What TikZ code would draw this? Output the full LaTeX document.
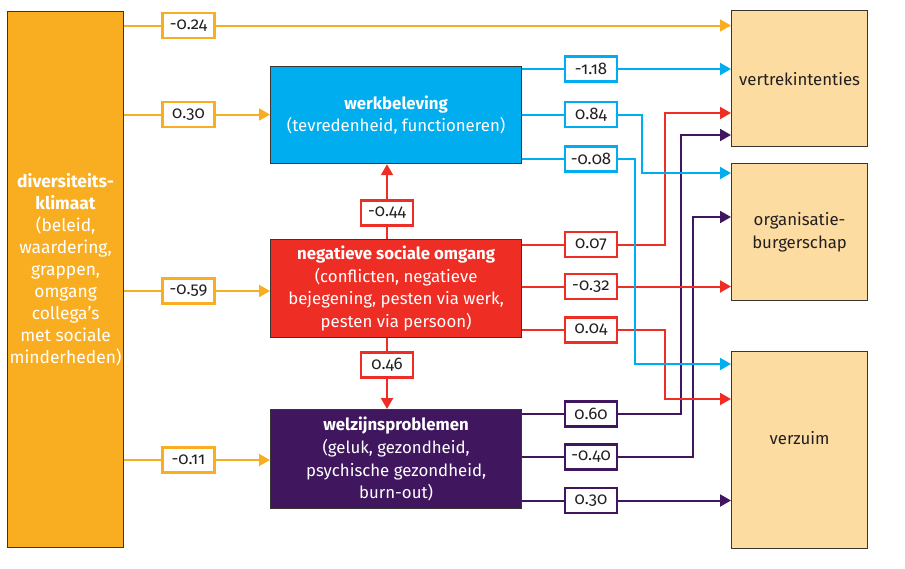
\documentclass[tikz,border=0pt]{standalone}
\usepackage{fontspec}
\setmainfont{Fira Sans}[Numbers=OldStyle]
\usetikzlibrary{arrows.meta}
\definecolor{corange}{HTML}{F9AE22}
\definecolor{cblue}{HTML}{00AEEF}
\definecolor{cred}{HTML}{EE2D24}
\definecolor{cpurple}{HTML}{40175F}
\definecolor{cbeige}{HTML}{FCDCA0}
\definecolor{cborder}{HTML}{3A3530}
\definecolor{ctext}{HTML}{231F20}
\begin{document}
\begin{tikzpicture}[x=1pt,y=-1pt,
  bigbox/.style={draw=cborder,line width=1.2pt,anchor=north west,inner sep=0pt,align=center,font=\fontsize{16.8}{22.6}\selectfont},
  outbox/.style={bigbox,fill=cbeige,text=ctext,minimum width=136pt},
  lab/.style={draw=#1,line width=2.5pt,fill=white,minimum width=52pt,minimum height=25pt,inner sep=0pt,text=ctext,font=\fontsize{16.8}{18}\selectfont},
  conn/.style={draw=#1,line width=2pt},
  arr/.style={conn=#1,-{Triangle[length=11pt,width=12pt]}}
]
\useasboundingbox (0,0) rectangle (905,568);
% main boxes
\node[bigbox,fill=corange,text=white,minimum width=116pt,minimum height=536pt,font=\fontsize{17.4}{22}\selectfont] (clim) at (7,11)
  {\raisebox{9pt}[\height][\depth]{\renewcommand{\arraystretch}{1}\begin{tabular}{@{}c@{}}\textbf{diversiteits-}\\\textbf{klimaat}\\(beleid,\\waardering,\\grappen,\\omgang\\collega’s\\met sociale\\minderheden)\end{tabular}}};
\node[bigbox,fill=cblue,text=white,minimum width=251pt,minimum height=97pt] (werk) at (270,66)
  {\textbf{werkbeleving}\\(tevredenheid, functioneren)};
\node[bigbox,fill=cred,text=white,minimum width=251pt,minimum height=98pt] (neg) at (270,239)
  {\textbf{negatieve sociale omgang}\\(conflicten, negatieve\\bejegening, pesten via werk,\\pesten via persoon)};
\node[bigbox,fill=cpurple,text=white,minimum width=251pt,minimum height=99pt] (welz) at (270,409)
  {\textbf{welzijnsproblemen}\\(geluk, gezondheid,\\psychische gezondheid,\\burn-out)};
\node[outbox,minimum height=136pt] (vert) at (731,10) {vertrekintenties};
\node[outbox,minimum height=137pt] (org) at (731,163) {organisatie-\\burgerschap};
\node[outbox,minimum height=197pt] (verz) at (731,351) {\raisebox{12pt}[\height][\depth]{verzuim}};
% label boxes
\node[lab=corange] (lA) at (188.5,25.5) {-0.24};
\node[lab=corange] (lB) at (188.5,114.5) {0.30};
\node[lab=corange] (lC) at (188.5,291) {-0.59};
\node[lab=corange] (lD) at (188.5,460) {-0.11};
\node[lab=cblue] (b1) at (591,69) {-1.18};
\node[lab=cblue] (b2) at (591,114.5) {0.84};
\node[lab=cblue] (b3) at (591,159) {-0.08};
\node[lab=cred] (r1) at (591,244.5) {0.07};
\node[lab=cred] (r2) at (591,286.5) {-0.32};
\node[lab=cred] (r3) at (591,330) {0.04};
\node[lab=cpurple] (p1) at (591,414) {0.60};
\node[lab=cpurple] (p2) at (591,457) {-0.40};
\node[lab=cpurple] (p3) at (591,500.5) {0.30};
\node[lab=cred] (v1) at (387,213) {-0.44};
\node[lab=cred] (v2) at (387,365) {0.46};
% bend points
\coordinate (kb2) at (642,173);
\coordinate (kb3) at (635,364);
\coordinate (kr1) at (665,113);
\coordinate (kr3) at (665,399);
\coordinate (kp1) at (681,135);
\coordinate (kp2) at (693,217);
% orange connectors
\draw[conn=corange] (clim.east |- lA) -- (lA.west);
\draw[arr=corange] (lA.east) -- (vert.west |- lA);
\draw[conn=corange] (clim.east |- lB) -- (lB.west);
\draw[arr=corange] (lB.east) -- (werk.west |- lB);
\draw[conn=corange] (clim.east |- lC) -- (lC.west);
\draw[arr=corange] (lC.east) -- (neg.west |- lC);
\draw[conn=corange] (clim.east |- lD) -- (lD.west);
\draw[arr=corange] (lD.east) -- (welz.west |- lD);
% vertical red
\draw[conn=cred] (neg.north -| v1) -- (v1.south);
\draw[arr=cred] (v1.north) -- (werk.south -| v1);
\draw[conn=cred] (neg.south -| v2) -- (v2.north);
\draw[arr=cred] (v2.south) -- (welz.north -| v2);
% purple
\draw[conn=cpurple] (welz.east |- p1) -- (p1.west);
\draw[arr=cpurple] (p1.east) -| (kp1) -- (vert.west |- kp1);
\draw[conn=cpurple] (welz.east |- p2) -- (p2.west);
\draw[arr=cpurple] (p2.east) -| (kp2) -- (org.west |- kp2);
\draw[conn=cpurple] (welz.east |- p3) -- (p3.west);
\draw[arr=cpurple] (p3.east) -- (verz.west |- p3);
% red
\draw[conn=cred] (neg.east |- r1) -- (r1.west);
\draw[arr=cred] (r1.east) -| (kr1) -- (vert.west |- kr1);
\draw[conn=cred] (neg.east |- r2) -- (r2.west);
\draw[arr=cred] (r2.east) -- (org.west |- r2);
\draw[conn=cred] (neg.east |- r3) -- (r3.west);
\draw[arr=cred] (r3.east) -| (kr3) -- (verz.west |- kr3);
% blue
\draw[conn=cblue] (werk.east |- b1) -- (b1.west);
\draw[arr=cblue] (b1.east) -- (vert.west |- b1);
\draw[conn=cblue] (werk.east |- b2) -- (b2.west);
\draw[arr=cblue] (b2.east) -| (kb2) -- (org.west |- kb2);
\draw[conn=cblue] (werk.east |- b3) -- (b3.west);
\draw[arr=cblue] (b3.east) -| (kb3) -- (verz.west |- kb3);
\end{tikzpicture}
\end{document}
